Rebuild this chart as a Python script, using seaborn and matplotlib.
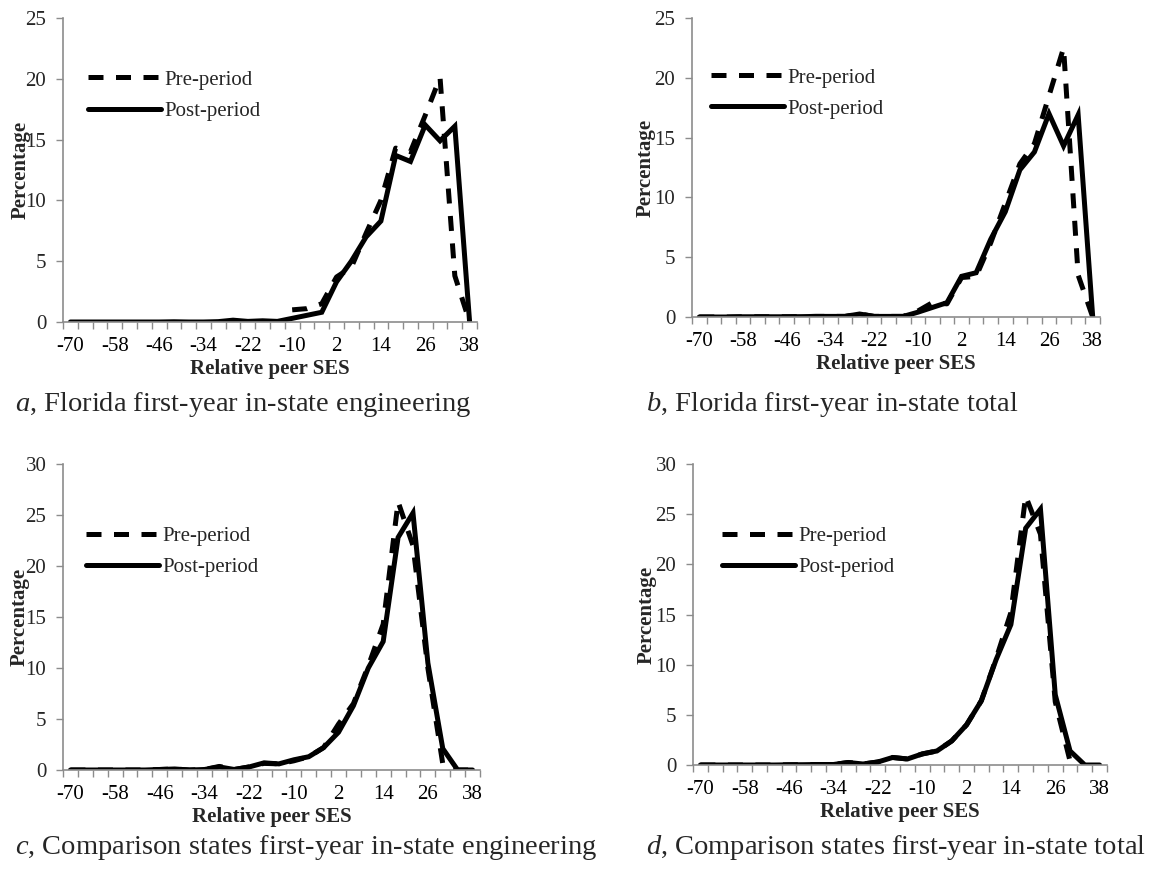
import numpy as np
import pandas as pd
import matplotlib
matplotlib.use("Agg")
import matplotlib.pyplot as plt
import seaborn as sns
from matplotlib.lines import Line2D

nan = np.nan

# Categories (relative peer SES, step 4) and tick labels
ses = list(range(-70, 39, 4))
tick_labels = ["-70", "-58", "-46", "-34", "-22", "-10", "2", "14", "26", "38"]

# a, Florida first-year in-state engineering
a_pre = [nan, nan, nan, nan, nan, nan, nan, nan, nan, nan, nan, nan, nan, nan, nan,
         1.0, 1.1, 1.5, 3.7, 4.5, 7.3, 10.0, 14.3, 14.0, 17.0, 20.1, 3.8, 0.0]
a_post = [0, 0, 0, 0, 0, 0, 0, 0.02, 0, 0, 0.03, 0.15, 0.05, 0.1, 0.05,
          0.3, 0.55, 0.8, 3.3, 5.0, 7.0, 8.3, 13.7, 13.2, 16.2, 14.9, 16.1, 0.0]

# b, Florida first-year in-state total
b_pre = [0, 0, 0, 0.02, 0.02, 0.02, 0.02, 0.03, 0.05, 0.05, 0.05, 0.25, 0.05, 0.05, 0.05,
         0.5, 1.2, 1.1, 3.3, 3.4, 6.2, 9.5, 12.8, 14.5, 18.5, 22.5, 3.5, 0.0]
b_post = [0, 0, 0, 0.02, 0.02, 0.02, 0.02, 0.03, 0.05, 0.05, 0.05, 0.25, 0.05, 0.05, 0.05,
          0.4, 0.8, 1.2, 3.4, 3.7, 6.5, 8.8, 12.3, 13.8, 17.0, 14.3, 16.9, 0.0]

# c, Comparison states first-year in-state engineering
c_pre = [0, 0, 0, 0, 0, 0, 0.05, 0.1, 0, 0.05, 0.35, 0.05, 0.3, 0.65, 0.6,
         0.9, 1.3, 2.2, 4.5, 6.5, 10.2, 14.3, 26.3, 22.0, 10.0, 0.6, 0.0, 0.0]
c_post = [0, 0, 0, 0, 0, 0, 0.05, 0.1, 0, 0.05, 0.3, 0.05, 0.3, 0.7, 0.6,
          1.0, 1.3, 2.2, 3.7, 6.3, 10.0, 12.6, 22.8, 25.2, 10.5, 2.1, 0.0, 0.0]

# d, Comparison states first-year in-state total
d_pre = [0, 0, 0, 0, 0, 0, 0.02, 0.03, 0.05, 0.05, 0.25, 0.1, 0.3, 0.75, 0.6,
         1.1, 1.4, 2.4, 4.0, 6.4, 10.6, 15.2, 26.8, 23.0, 6.3, 0.4, nan, nan]
d_post = [0, 0, 0, 0, 0, 0, 0.02, 0.03, 0.05, 0.05, 0.25, 0.1, 0.3, 0.75, 0.6,
          1.1, 1.4, 2.4, 4.0, 6.4, 10.5, 14.0, 23.6, 25.5, 7.0, 1.4, 0.0, 0.0]

captions = [
    r"$\mathit{a}$, Florida first-year in-state engineering",
    r"$\mathit{b}$, Florida first-year in-state total",
    r"$\mathit{c}$, Comparison states first-year in-state engineering",
    r"$\mathit{d}$, Comparison states first-year in-state total",
]

sns.set_style("white")
plt.rcParams['font.family'] = ['Liberation Serif', 'DejaVu Serif']
plt.rcParams['mathtext.fontset'] = 'custom'
plt.rcParams['mathtext.it'] = 'Liberation Serif:italic'
plt.rcParams['mathtext.rm'] = 'Liberation Serif'

W, H = 1161, 869
fig = plt.figure(figsize=(W / 100, H / 100), dpi=100)
fig.patch.set_facecolor("white")

def add_axes(l, r, t, b):
    return fig.add_axes([l / W, 1 - b / H, (r - l) / W, (b - t) / H])

AX = "#8c8c8c"
FS = 15

layout = [
    dict(pre=a_pre, post=a_post, box=(63, 477, 18, 322), ymax=25, cap=(15, 405), leg=(0.06, 0.745), ylx=-0.077),
    dict(pre=b_pre, post=b_post, box=(692, 1100, 18, 317), ymax=25, cap=(646, 405), leg=(0.047, 0.748), ylx=-0.088),
    dict(pre=c_pre, post=c_post, box=(63, 480, 464, 770), ymax=30, cap=(15, 848), leg=(0.055, 0.712), ylx=-0.079),
    dict(pre=d_pre, post=d_post, box=(693, 1107, 464, 765), ymax=30, cap=(646, 848), leg=(0.07, 0.709), ylx=-0.089),
]

idx = np.arange(len(ses))
for p, cap in zip(layout, captions):
    ax = add_axes(*p["box"])
    df = pd.DataFrame({"idx": idx, "ses": ses, "Pre-period": p["pre"], "Post-period": p["post"]})
    sns.lineplot(data=df, x="idx", y="Post-period", ax=ax, color="black", lw=3.6,
                 solid_joinstyle="miter", legend=False)
    sns.lineplot(data=df, x="idx", y="Pre-period", ax=ax, color="black", lw=3.6,
                 dashes=False, linestyle=(0, (3, 2.5)), legend=False)
    ax.set_xlim(-0.5, len(ses) - 0.5)
    ax.set_ylim(0, p["ymax"])
    ax.set_yticks(np.arange(0, p["ymax"] + 1, 5))
    ax.set_xticks(idx[::3])
    ax.set_xticklabels(tick_labels)
    ax.set_xticks(np.arange(-0.5, len(ses), 1.0), minor=True)
    ax.tick_params(axis="x", which="major", length=0, pad=11, labelsize=FS, colors="black")
    ax.tick_params(axis="x", which="minor", length=5, width=1, color=AX, direction="out", bottom=True)
    ax.tick_params(axis="y", which="major", length=5, width=1, color=AX, direction="out",
                   pad=7, labelsize=FS, left=True)
    for s in ["top", "right"]:
        ax.spines[s].set_visible(False)
    for s in ["left", "bottom"]:
        ax.spines[s].set_color(AX)
        ax.spines[s].set_linewidth(1.2)
    ax.set_xlabel("Relative peer SES", fontsize=FS, fontweight="bold", labelpad=2)
    ax.set_ylabel("Percentage", fontsize=FS, fontweight="bold")
    ax.yaxis.set_label_coords(p["ylx"], 0.5)
    handles = [Line2D([], [], color="black", lw=3.6, linestyle=(0, (3, 2.5))),
               Line2D([], [], color="black", lw=3.6)]
    ax.legend(handles, ["Pre-period", "Post-period"], loc="center left",
              bbox_to_anchor=(p["leg"][0], p["leg"][1]), frameon=False, fontsize=FS,
              handlelength=3.5, handletextpad=0.15, labelspacing=0.55,
              borderpad=0, borderaxespad=0)
    fig.text(p["cap"][0] / W, 1 - p["cap"][1] / H, cap, fontsize=20.5, ha="left", va="center")

fig.savefig("out.png", dpi=100, facecolor="white")
